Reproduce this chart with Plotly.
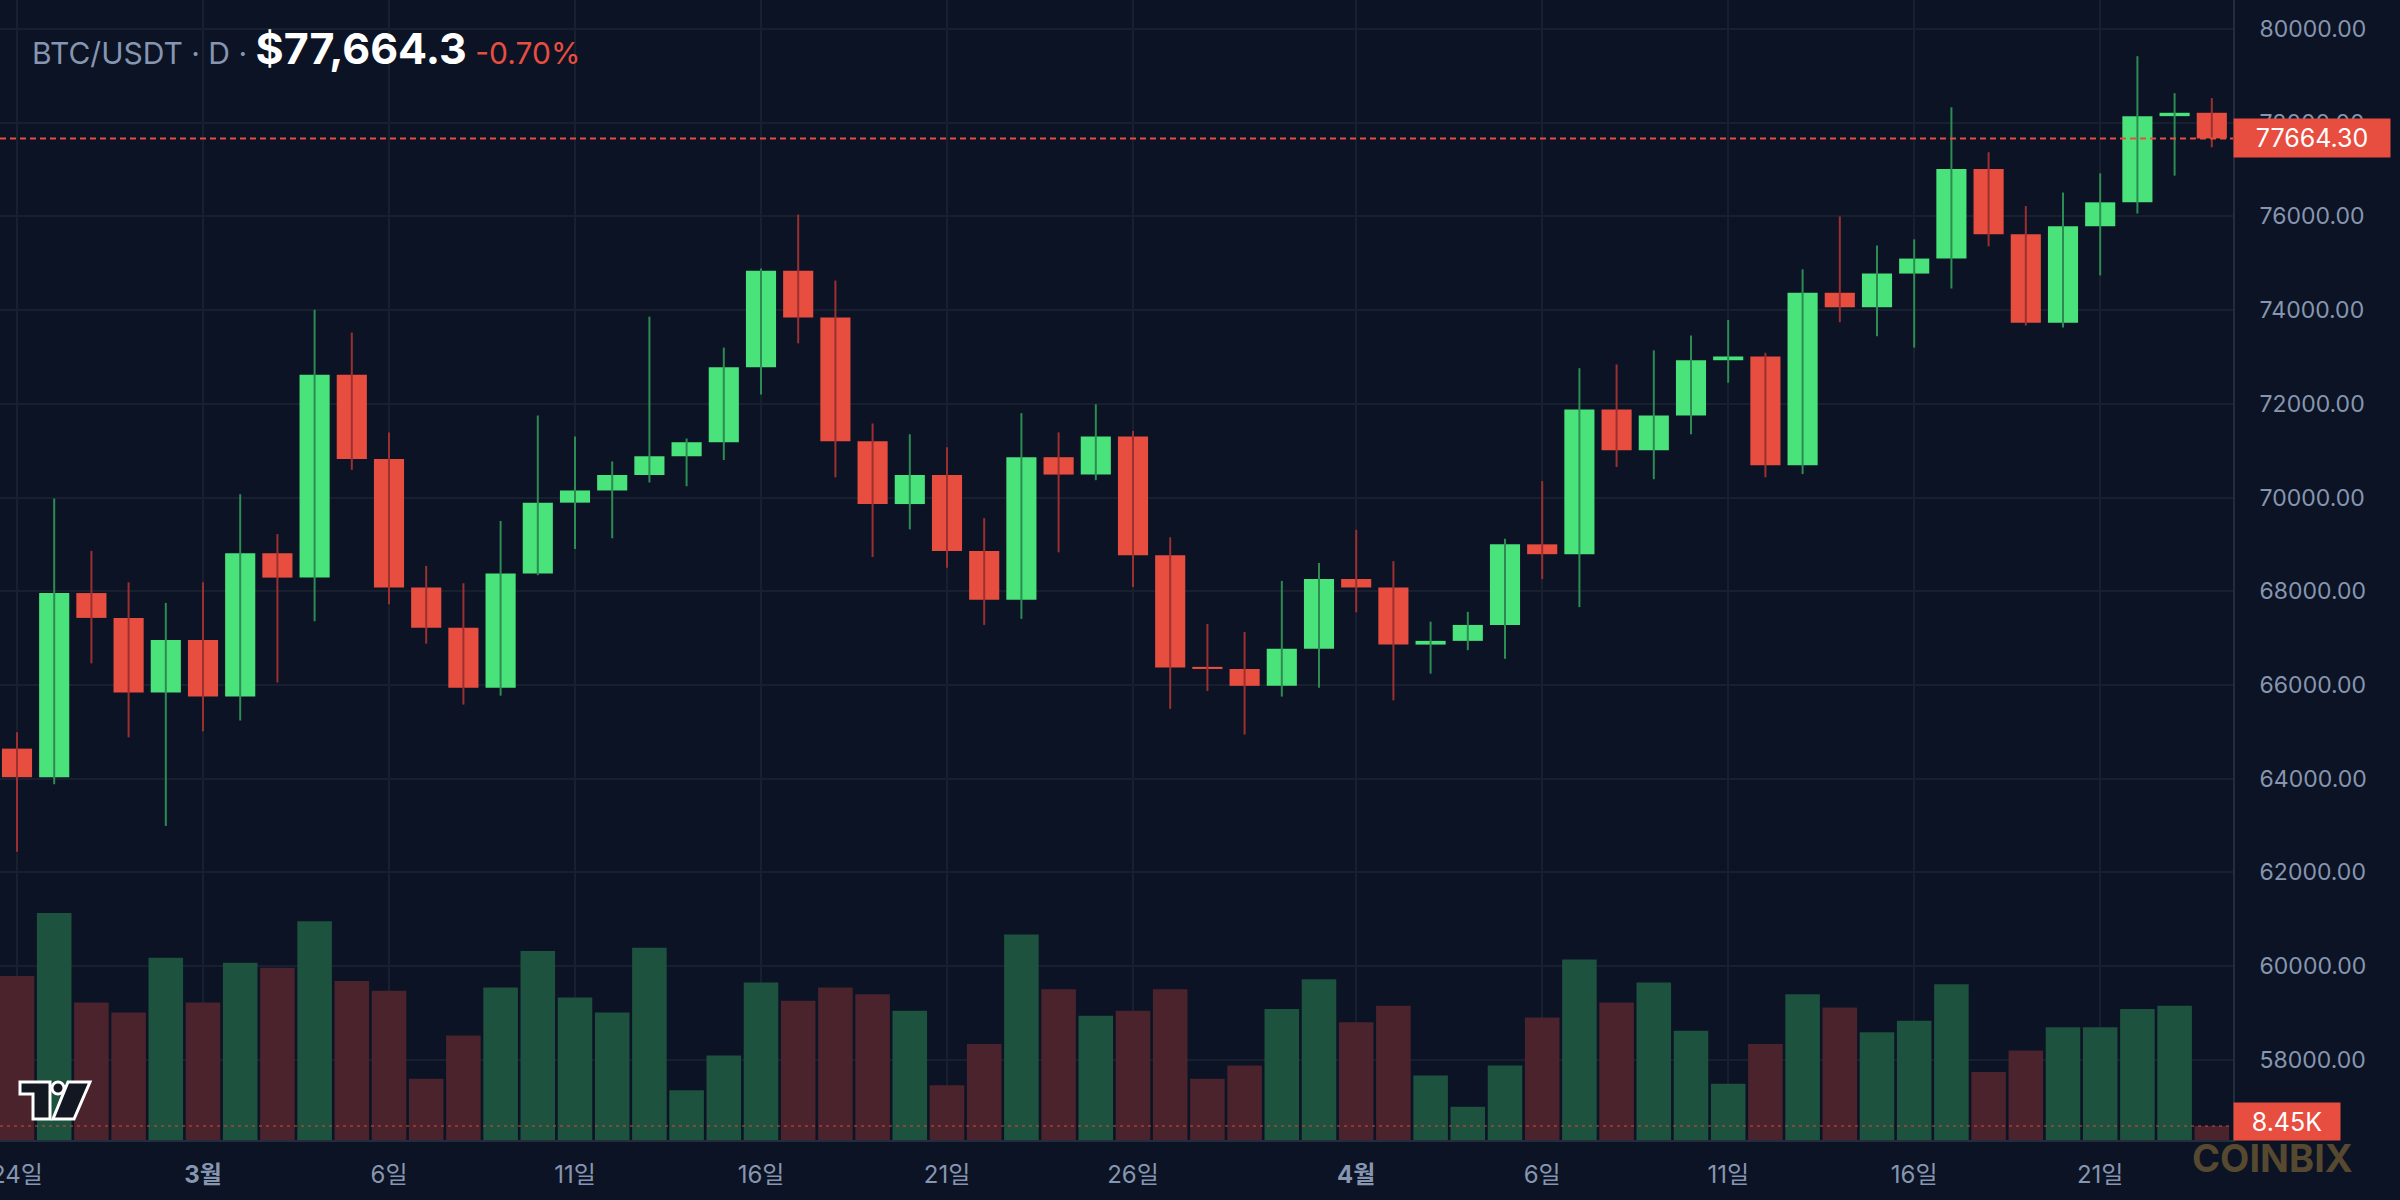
import plotly.graph_objects as go
import pandas as pd

# ---------------- data ----------------
dates = pd.date_range("2026-02-24", "2026-04-24", freq="D")

open_ = [64640, 64030, 67960, 67430, 65840, 66960, 65750, 68810, 68290, 72620,
         70820, 68080, 67220, 65940, 68380, 69890, 70150, 70480, 70880, 71180,
         72780, 74840, 73840, 71200, 69860, 70480, 68860, 67820, 70860, 70490,
         71300, 68770, 66370, 66340, 65980, 66770, 68260, 68080, 66860, 66940,
         67280, 69000, 68790, 71880, 71010, 71750, 72930, 73010, 70690, 74370,
         74060, 74780, 75100, 77010, 75620, 73730, 75790, 76300, 78140, 78212]
high = [64990, 69980, 68860, 68190, 67750, 68190, 70070, 69220, 74010, 73520,
        71390, 68540, 68170, 69500, 71750, 71300, 70770, 73860, 71260, 73200,
        74890, 76040, 74630, 71580, 71350, 71070, 69560, 71800, 71390, 71990,
        71420, 69150, 67300, 67130, 68220, 68600, 69310, 68640, 67350, 67560,
        69120, 70350, 72760, 72840, 73140, 73460, 73790, 73090, 74870, 76000,
        75380, 75510, 78330, 77370, 76220, 76510, 76920, 79420, 78630, 78525]
low = [62440, 63880, 66460, 64880, 62990, 65010, 65240, 66050, 67360, 70590,
       67720, 66880, 65580, 65770, 68340, 68900, 69130, 70320, 70240, 70800,
       72200, 73290, 70430, 68730, 69320, 68500, 67280, 67410, 68830, 70370,
       68090, 65490, 65870, 64940, 65750, 65940, 67550, 65670, 66240, 66740,
       66560, 68260, 67660, 70650, 70390, 71350, 72450, 70430, 70500, 73740,
       73440, 73200, 74460, 75360, 73670, 73630, 74740, 76060, 76870, 77475]
close = [64030, 67960, 67430, 65840, 66960, 65750, 68810, 68290, 72620, 70820,
         68080, 67220, 65940, 68380, 69890, 70150, 70480, 70880, 71180, 72780,
         74840, 73840, 71200, 69860, 70480, 68860, 67820, 70860, 70490, 71300,
         68770, 66370, 66340, 65980, 66770, 68260, 68080, 66860, 66940, 67280,
         69000, 68790, 71880, 71010, 71750, 72930, 73010, 70690, 74370, 74060,
         74780, 75100, 77010, 75620, 73730, 75790, 76300, 78140, 78212, 77664.3]
volume = [99000, 137000, 83000, 77000, 110000, 83000, 107000, 104000, 132000, 96000,
          90000, 37000, 63000, 92000, 114000, 86000, 77000, 116000, 30000, 51000,
          95000, 84000, 92000, 88000, 78000, 33000, 58000, 124000, 91000, 75000,
          78000, 91000, 37000, 45000, 79000, 97000, 71000, 81000, 39000, 20000,
          45000, 74000, 109000, 83000, 95000, 66000, 34000, 58000, 88000, 80000,
          65000, 72000, 94000, 41000, 54000, 68000, 68000, 79000, 81000, 8450]

tick_dates = ["2026-02-24", "2026-03-01", "2026-03-06", "2026-03-11", "2026-03-16",
              "2026-03-21", "2026-03-26", "2026-04-01", "2026-04-06", "2026-04-11",
              "2026-04-16", "2026-04-21"]
tick_labels = ["24일", "<b>3월</b>", "6일", "11일", "16일", "21일", "26일",
               "<b>4월</b>", "6일", "11일", "16일", "21일"]

symbol = "BTC/USDT"
interval = "D"

# ---------------- style ----------------
W, H = 2400, 1200
ML, MR, MT, MB = 0, 167, 0, 60
PW, PH = W - ML - MR, H - MT - MB

BG = "#0b1324"
GRID = "#182030"
AXLINE = "#242d3d"
TXT = "#8796b0"
UP = "#4ae27a"
DOWN = "#e84e40"
UP_WICK = "#2d8c52"
DOWN_WICK = "#9c3030"
VOL_UP = "#1d523e"
VOL_DOWN = "#4b232c"
DAY_MS = 86400000

up_flags = [c >= o for o, c in zip(open_, close)]
min_body = 45
body_base = [min(o, c) for o, c in zip(open_, close)]
body_h = [max(abs(c - o), min_body) for o, c in zip(open_, close)]
body_col = [UP if u else DOWN for u in up_flags]
vol_col = [VOL_UP if u else VOL_DOWN for u in up_flags]

def wick_xy(flag):
    xs, ys = [], []
    for d, h, l, u in zip(dates, high, low, up_flags):
        if u == flag:
            xs += [d, d, None]
            ys += [l, h, None]
    return xs, ys

fig = go.Figure()

fig.add_trace(go.Bar(x=dates, y=volume, yaxis="y2", width=0.93 * DAY_MS,
                     marker=dict(color=vol_col, line=dict(width=0)),
                     hoverinfo="skip", showlegend=False))

for flag, col in [(True, UP_WICK), (False, DOWN_WICK)]:
    wx, wy = wick_xy(flag)
    fig.add_trace(go.Scatter(x=wx, y=wy, mode="lines",
                             line=dict(color=col, width=2),
                             hoverinfo="skip", showlegend=False))

fig.add_trace(go.Bar(x=dates, y=body_h, base=body_base, width=0.81 * DAY_MS,
                     marker=dict(color=body_col, line=dict(width=0)),
                     showlegend=False))

# axis ranges (pixel calibration)
x0 = dates[0] - pd.Timedelta(days=0.457)
x1 = dates[0] + pd.Timedelta(days=59.57)

last = close[-1]
prev = close[-2]
chg = (last / prev - 1) * 100

fig.update_layout(
    width=W, height=H,
    margin=dict(l=ML, r=MR, t=MT, b=MB, autoexpand=False),
    paper_bgcolor=BG, plot_bgcolor=BG,
    barmode="overlay", showlegend=False,
    font=dict(family="Inter, Noto Sans CJK KR, sans-serif", color=TXT),
    xaxis=dict(type="date", range=[x0, x1], automargin=False,
               tickvals=tick_dates, ticktext=tick_labels,
               showgrid=True, gridcolor=GRID, gridwidth=2,
               showline=True, linecolor=AXLINE, linewidth=2,
               ticks="", zeroline=False, ticklabelstandoff=12,
               ticklabeloverflow="allow",
               tickfont=dict(size=24, color=TXT,
                             family="Inter, Noto Sans CJK KR, sans-serif"),
               rangeslider=dict(visible=False)),
    yaxis=dict(side="right", range=[56286, 80619], dtick=2000, tick0=0,
               automargin=False,
               tickformat=".2f", showgrid=True, gridcolor=GRID, gridwidth=2,
               showline=True, linecolor=AXLINE, linewidth=2,
               ticks="", zeroline=False, ticklabelstandoff=20,
               tickfont=dict(size=23, color=TXT)),
    yaxis2=dict(overlaying="y", range=[0, 688000], visible=False,
                showgrid=False, zeroline=False),
)

# last price line and volume line
fig.add_shape(type="line", xref="paper", x0=0, x1=1, yref="y", y0=last, y1=last,
              line=dict(color=DOWN, width=2, dash="6px,4px"), layer="above")
fig.add_shape(type="line", xref="paper", x0=0, x1=1, yref="y2",
              y0=volume[-1], y1=volume[-1],
              line=dict(color="rgba(200,70,60,0.55)", width=2, dash="3px,4px"),
              layer="above")

# labels on the price axis
fig.add_annotation(xref="paper", x=1, xanchor="left", yref="y", y=last,
                   yanchor="middle", text=f"{last:.2f}", showarrow=False,
                   bgcolor=DOWN, width=156, height=38, borderpad=0,
                   font=dict(size=25, color="#ffffff"), align="center")
fig.add_annotation(xref="paper", x=1, xanchor="left", yref="y2", y=volume[-1],
                   yanchor="middle", yshift=5, text=f"{volume[-1]/1000:.2f}K",
                   showarrow=False, bgcolor=DOWN, width=106, height=37,
                   borderpad=0, font=dict(size=25, color="#ffffff"),
                   align="center")

# header
title = (f'<span style="color:{TXT}">{symbol} · {interval} · </span>'
         f'<span style="font-size:43px;color:#ffffff"><b>${last:,.1f}</b></span>'
         f'<span style="color:{DOWN}"> {chg:.2f}%</span>')
fig.add_annotation(xref="paper", x=30 / PW, xanchor="left",
                   yref="paper", y=1 - 48 / PH, yanchor="middle",
                   text=title, showarrow=False, align="left",
                   font=dict(size=30, color=TXT, family="Inter, sans-serif"))

# watermark
fig.add_annotation(xref="paper", x=2272 / PW, xanchor="center",
                   yref="paper", y=-(1158 - PH) / PH, yanchor="middle",
                   text="<b>COINBIX</b>", showarrow=False,
                   font=dict(size=38, color="#564930", family="Inter, sans-serif"))

# TradingView-style logo
def P(x, y):
    return f"{x / PW:.5f},{1 - y / PH:.5f}"

logo_t = ("M " + P(20, 1082) + " L " + P(50, 1082) + " L " + P(50, 1119) +
          " L " + P(33, 1119) + " L " + P(33, 1094) + " L " + P(20, 1094) + " Z")
logo_s = ("M " + P(68, 1082) + " L " + P(90, 1082) + " L " + P(74, 1119) +
          " L " + P(53, 1119) + " Z")
for pth in (logo_t, logo_s):
    fig.add_shape(type="path", xref="paper", yref="paper", path=pth,
                  fillcolor="#131722", line=dict(color="#ffffff", width=3),
                  layer="above")
fig.add_shape(type="circle", xref="paper", yref="paper",
              x0=52 / PW, x1=64 / PW, y0=1 - 1094 / PH, y1=1 - 1082 / PH,
              fillcolor="#131722", line=dict(color="#ffffff", width=3),
              layer="above")

fig.write_html("out.html")
